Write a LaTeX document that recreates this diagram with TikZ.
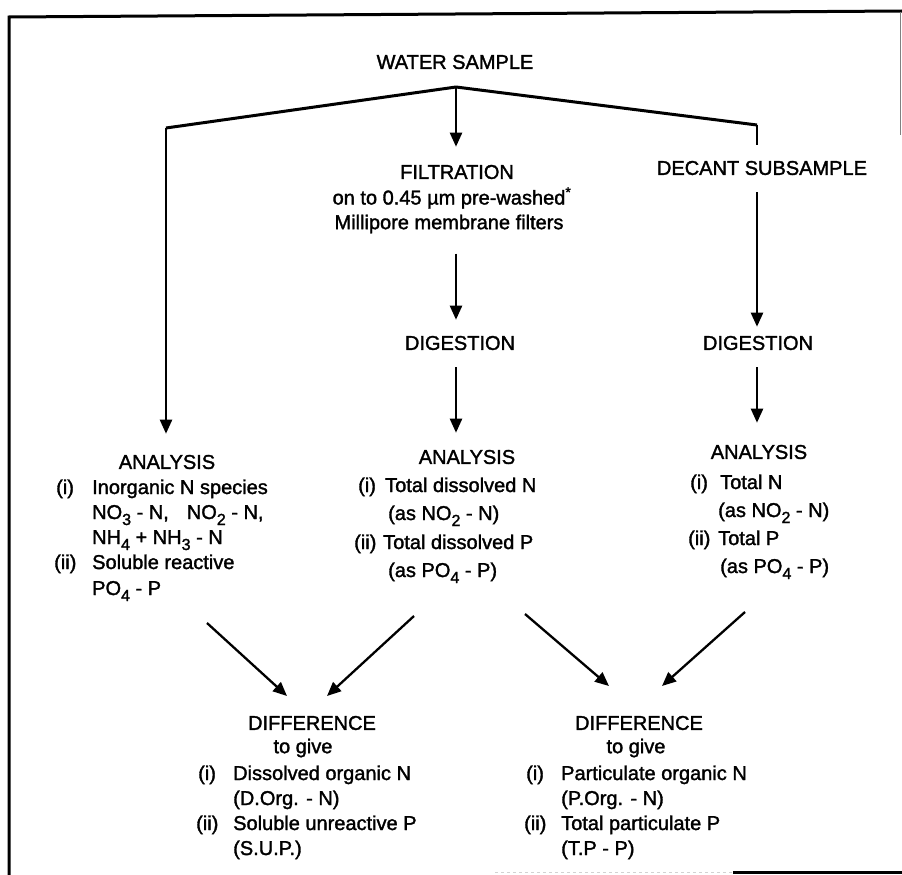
\documentclass[tikz,border=0pt]{standalone}
\usepackage{fontspec}
\setmainfont{Liberation Sans}[FakeBold=1.6,AutoFakeBold=1.6]
\usetikzlibrary{arrows.meta,calc}
\newcommand\sbs[1]{\raisebox{-0.3em}{\fontsize{16}{16}\selectfont #1}}
\begin{document}
\begin{tikzpicture}[x=1pt,y=-1pt,
  every node/.style={font=\fontsize{20}{24}\selectfont\bfseries, inner sep=0pt, text=black},
  head/.style={anchor=center},
  txt/.style={anchor=base west},
  arr/.style={line width=2.3pt, -{Triangle[length=14pt,width=12pt]}},
  ln/.style={line width=2.3pt},
  frame/.style={line width=3pt}]
\useasboundingbox (0,0) rectangle (902,875);
% frame
\draw[frame] (9,875) -- (9,17) -- (902,11);
\draw[line width=1pt, gray] (900,12) -- (900,135);
\draw[frame] (733,872) -- (902,872);
\draw[line width=1pt, gray!35, dashed] (495,872) -- (733,872);
% top
\node[head] (ws) at (455,62) {WATER SAMPLE};
\coordinate (apex) at (456,87);
\coordinate (lc) at (166,128);
\coordinate (rc) at (757,125);
\coordinate (re) at (757,145);
\draw[line width=3pt, line join=round] (lc) -- (apex) -- (rc);
\draw[ln] (rc) -- (re);
\node[head] (filt) at (457,172) {FILTRATION};
\node[head] (onto) at (452,198) {on to 0.45 µm pre-washed\textsuperscript{*}};
\node[head] (mill) at (449,224) {Millipore membrane filters};
\node[head] (dec) at (762,168) {DECANT SUBSAMPLE};
\node[head] (dig1) at (460,343) {DIGESTION};
\node[head] (dig2) at (758,343) {DIGESTION};
\node[head] (an1) at (167,462) {ANALYSIS};
\node[head] (an2) at (467,457) {ANALYSIS};
\node[head] (an3) at (759,452) {ANALYSIS};
% vertical arrows
\draw[arr] (apex) -- ($(filt.north -| apex)+(0,-18)$);
\draw[arr] (lc) -- ($(an1.north -| lc)+(0,-21)$);
\draw[arr] ($(mill.south -| apex)+(0,20)$) -- ($(dig1.north -| apex)+(0,-16)$);
\draw[arr] ($(dig1.south -| apex)+(0,17)$) -- ($(an2.north -| apex)+(0,-17)$);
\draw[arr] ($(dec.south -| re)+(0,17)$) -- ($(dig2.north -| re)+(0,-9)$);
\draw[arr] ($(dig2.south -| re)+(0,17)$) -- ($(an3.north -| re)+(0,-22)$);
% left analysis block
\node[txt] (l1a) at (56,494) {(i)};
\node[txt] (l1b) at (92,494) {Inorganic N species};
\node[txt] (l2) at (92,519) {NO\sbs{3} - N,\hspace{0.9em}NO\sbs{2} - N,};
\node[txt] (l3) at (92,544) {NH\sbs{4} + NH\sbs{3} - N};
\node[txt] (l4a) at (54,569) {(ii)};
\node[txt] (l4b) at (92,569) {Soluble reactive};
\node[txt] (l5) at (92,595) {PO\sbs{4} - P};
% middle analysis block
\node[txt] (m1a) at (358,492) {(i)};
\node[txt] (m1b) at (385,492) {Total dissolved N};
\node[txt] (m2) at (388,520) {(as NO\sbs{2} - N)};
\node[txt] (m3a) at (354,549) {(ii)};
\node[txt] (m3b) at (383,549) {Total dissolved P};
\node[txt] (m4) at (388,577) {(as PO\sbs{4} - P)};
% right analysis block
\node[txt] (r1a) at (690,489) {(i)};
\node[txt] (r1b) at (720,489) {Total N};
\node[txt] (r2) at (718,517) {(as NO\sbs{2} - N)};
\node[txt] (r3a) at (688,545) {(ii)};
\node[txt] (r3b) at (718,545) {Total P};
\node[txt] (r4) at (720,573) {(as PO\sbs{4} - P)};
% difference blocks
\node[head] (dif1) at (312,723) {DIFFERENCE};
\node[head] (tg1) at (303,748) {to give};
\node[txt] (d1a) at (198,780) {(i)};
\node[txt] (d1b) at (233,780) {Dissolved organic N};
\node[txt] (d2) at (233,805) {(D.Org. - N)};
\node[txt] (d3a) at (196,830) {(ii)};
\node[txt] (d3b) at (233,830) {Soluble unreactive P};
\node[txt] (d4) at (233,855) {(S.U.P.)};
\node[head] (dif2) at (639,723) {DIFFERENCE};
\node[head] (tg2) at (636,748) {to give};
\node[txt] (e1a) at (526,780) {(i)};
\node[txt] (e1b) at (561,780) {Particulate organic N};
\node[txt] (e2) at (561,805) {(P.Org. - N)};
\node[txt] (e3a) at (524,830) {(ii)};
\node[txt] (e3b) at (561,830) {Total particulate P};
\node[txt] (e4) at (561,855) {(T.P - P)};
% diagonal arrows
\coordinate (a1s) at (207,623); \coordinate (a1e) at (287,696);
\coordinate (a2s) at (414,616); \coordinate (a2e) at (327,696);
\coordinate (a3s) at (525,614); \coordinate (a3e) at (609,686);
\coordinate (a4s) at (745,612); \coordinate (a4e) at (662,686);
\draw[arr] (a1s) -- (a1e);
\draw[arr] (a2s) -- (a2e);
\draw[arr] (a3s) -- (a3e);
\draw[arr] (a4s) -- (a4e);
\end{tikzpicture}
\end{document}
